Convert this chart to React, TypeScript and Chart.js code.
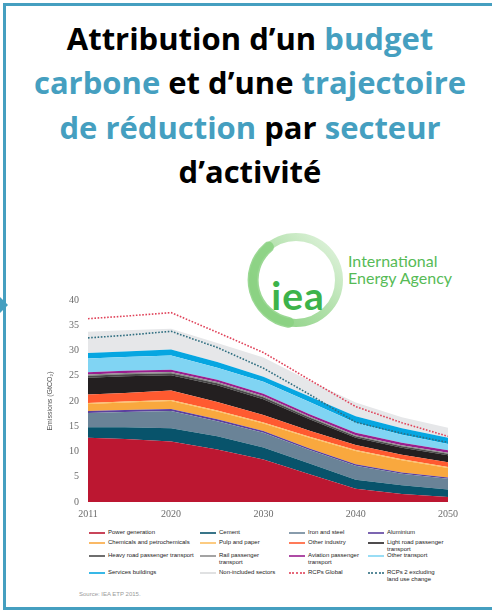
import React, { useEffect, useRef } from "react";
import { Chart, registerables } from "chart.js";

Chart.register(...registerables);

// ---- Data ----
const years = [2011, 2015, 2020, 2025, 2030, 2035, 2040, 2045, 2050];
const xTickYears = [2011, 2020, 2030, 2040, 2050];

const powerGeneration = [12.7, 12.5, 12.0, 10.4, 8.4, 5.5, 2.6, 1.6, 1.0];
const cement = [2.1, 2.3, 2.6, 2.6, 2.4, 2.1, 1.8, 1.7, 1.5];
const ironAndSteel = [2.8, 3.0, 3.4, 3.0, 2.9, 2.7, 2.8, 2.3, 2.1];
const aluminium = [0.4, 0.4, 0.4, 0.4, 0.35, 0.3, 0.3, 0.25, 0.25];
const chemicals = [1.4, 1.5, 1.6, 1.5, 1.5, 2.1, 2.6, 2.4, 1.9];
const pulpAndPaper = [0.2, 0.2, 0.2, 0.2, 0.2, 0.2, 0.2, 0.2, 0.2];
const otherIndustry = [1.7, 1.7, 1.9, 1.7, 1.5, 1.2, 1.0, 0.9, 0.9];
const lightRoadPassenger = [3.3, 3.3, 3.0, 3.3, 3.1, 2.3, 1.4, 1.4, 1.4];
const heavyRoadPassenger = [0.4, 0.4, 0.4, 0.4, 0.4, 0.35, 0.3, 0.3, 0.3];
const railPassenger = [0.25, 0.25, 0.25, 0.25, 0.25, 0.2, 0.2, 0.2, 0.2];
const aviationPassenger = [0.45, 0.45, 0.45, 0.45, 0.45, 0.45, 0.5, 0.5, 0.5];
const otherTransport = [2.7, 2.7, 2.8, 2.4, 2.35, 2.4, 2.0, 1.55, 1.25];
const servicesBuildings = [1.1, 1.1, 1.2, 1.1, 1.0, 1.1, 1.3, 1.3, 1.2];
const nonIncludedSectors = [4.2, 4.2, 4.1, 3.8, 3.8, 3.1, 2.7, 2.2, 2.0];

const rcpGlobal = [36.3, 36.8, 37.5, 33.6, 29.6, 24.2, 18.9, 15.7, 13.0];
const rcpExclLandUse = [32.5, 33.0, 33.8, 30.6, 26.5, 21.3, 15.8, 13.6, 11.8];

const sectorLabels = [
  "Power generation",
  "Cement",
  "Iron and steel",
  "Aluminium",
  "Chemicals and petrochemicals",
  "Pulp and paper",
  "Other industry",
  "Light road passenger transport",
  "Heavy road passenger transport",
  "Rail passenger transport",
  "Aviation passenger transport",
  "Other transport",
  "Services buildings",
  "Non-included sectors",
];
const sectorValues = [
  powerGeneration,
  cement,
  ironAndSteel,
  aluminium,
  chemicals,
  pulpAndPaper,
  otherIndustry,
  lightRoadPassenger,
  heavyRoadPassenger,
  railPassenger,
  aviationPassenger,
  otherTransport,
  servicesBuildings,
  nonIncludedSectors,
];
const sectorColors = [
  "#BC1731",
  "#08536B",
  "#6A8397",
  "#5B3F9E",
  "#F9A83E",
  "#FBBE62",
  "#FF5A30",
  "#231F20",
  "#4A4A4A",
  "#8C8C8C",
  "#9A1E8E",
  "#80D4F3",
  "#06A6E1",
  "#E6E7E9",
];

const lineLabels = ["RCPs Global", "RCPs 2 excluding land use change"];
const lineValues = [rcpGlobal, rcpExclLandUse];
const lineColors = ["#E0435A", "#2F6E80"];

// legend layout (row-major, 4 columns)
const legendRows: { label: string; lines: string[]; color: string; dotted?: boolean }[][] = [
  [
    { label: sectorLabels[0], lines: ["Power generation"], color: sectorColors[0] },
    { label: sectorLabels[1], lines: ["Cement"], color: sectorColors[1] },
    { label: sectorLabels[2], lines: ["Iron and steel"], color: sectorColors[2] },
    { label: sectorLabels[3], lines: ["Aluminium"], color: sectorColors[3] },
  ],
  [
    { label: sectorLabels[4], lines: ["Chemicals and petrochemicals"], color: sectorColors[4] },
    { label: sectorLabels[5], lines: ["Pulp and paper"], color: sectorColors[5] },
    { label: sectorLabels[6], lines: ["Other industry"], color: sectorColors[6] },
    { label: sectorLabels[7], lines: ["Light road passenger", "transport"], color: sectorColors[7] },
  ],
  [
    { label: sectorLabels[8], lines: ["Heavy road passenger transport"], color: sectorColors[8] },
    { label: sectorLabels[9], lines: ["Rail passenger", "transport"], color: sectorColors[9] },
    { label: sectorLabels[10], lines: ["Aviation passenger", "transport"], color: sectorColors[10] },
    { label: sectorLabels[11], lines: ["Other transport"], color: sectorColors[11] },
  ],
  [
    { label: sectorLabels[12], lines: ["Services buildings"], color: sectorColors[12] },
    { label: sectorLabels[13], lines: ["Non-included sectors"], color: "#D8D9DB" },
    { label: lineLabels[0], lines: ["RCPs Global"], color: lineColors[0], dotted: true },
    { label: lineLabels[1], lines: ["RCPs 2 excluding", "land use change"], color: lineColors[1], dotted: true },
  ],
];

const TEAL = "#459FC0";

function ChartCanvas() {
  const ref = useRef<HTMLCanvasElement | null>(null);
  useEffect(() => {
    if (!ref.current) return;
    const areaSets = sectorValues.map((vals, i) => ({
      label: sectorLabels[i],
      data: vals.map((v, j) => ({ x: years[j], y: v })),
      backgroundColor: sectorColors[i],
      borderColor: sectorColors[i],
      borderWidth: 0,
      pointRadius: 0,
      fill: i === 0 ? "origin" : "-1",
      yAxisID: "y",
      order: 20,
    }));
    const lineSets = lineValues.map((vals, i) => ({
      label: lineLabels[i],
      data: vals.map((v, j) => ({ x: years[j], y: v })),
      borderColor: lineColors[i],
      backgroundColor: lineColors[i],
      borderWidth: 1.6,
      borderDash: [1.6, 1.6],
      pointRadius: 0,
      fill: false,
      yAxisID: "y2",
      order: 1,
    }));
    const chart = new Chart(ref.current, {
      type: "line",
      data: { datasets: [...areaSets, ...lineSets] as any },
      options: {
        animation: false,
        responsive: false,
        maintainAspectRatio: false,
        layout: { padding: { top: 12, right: 14, left: 0, bottom: 0 } },
        plugins: { legend: { display: false }, tooltip: { enabled: false } },
        elements: { line: { tension: 0 } },
        scales: {
          x: {
            type: "linear",
            min: 2011,
            max: 2050,
            grid: { display: false, drawTicks: false },
            border: { display: false },
            afterBuildTicks: (s: any) => {
              s.ticks = xTickYears.map((v) => ({ value: v }));
            },
            afterFit: (s: any) => {
              s.height = 22;
            },
            ticks: {
              autoSkip: false,
              maxRotation: 0,
              padding: 6,
              color: "#6b6b6b",
              font: { family: "Liberation Serif", size: 10 },
              callback: (v: any) => String(v),
            },
          },
          y: {
            stacked: true,
            min: 0,
            max: 40,
            grid: { display: false, drawTicks: false },
            border: { display: false },
            afterFit: (s: any) => {
              s.width = 44;
            },
            ticks: {
              stepSize: 5,
              padding: 9,
              color: "#6b6b6b",
              font: { family: "Liberation Serif", size: 10 },
            },
            title: {
              display: true,
              text: "Emissions (GtCO\u2082)",
              color: "#555",
              padding: { top: 2, bottom: 0 },
              font: { family: "Liberation Sans", size: 7 },
            },
          },
          y2: {
            display: false,
            min: 0,
            max: 40,
          },
        },
      } as any,
    });
    return () => chart.destroy();
  }, []);
  return (
    <canvas
      ref={ref}
      width={420}
      height={239}
      style={{ position: "absolute", left: 44, top: 285, width: 420, height: 239 }}
    />
  );
}

function Logo() {
  return (
    <svg
      width={240}
      height={110}
      style={{ position: "absolute", left: 240, top: 228 }}
      viewBox="0 0 240 110"
    >
      <defs>
        <linearGradient id="ring" x1="0" y1="1" x2="1" y2="0">
          <stop offset="0" stopColor="#86CF7D" />
          <stop offset="0.5" stopColor="#B0E0A9" />
          <stop offset="1" stopColor="#E4F4E1" />
        </linearGradient>
      </defs>
      <circle cx={56} cy={52} r={43} fill="none" stroke="url(#ring)" strokeWidth={8} />
      <path
        d="M 48.5 94.3 A 43 43 0 0 1 28.4 19.1"
        fill="none"
        stroke="#8AD181"
        strokeWidth={11}
        strokeLinecap="round"
        opacity={0.85}
      />
      <text
        x={58}
        y={82}
        textAnchor="middle"
        fill="#3DB34A"
        style={{ fontFamily: "Lato", fontWeight: 700, fontSize: 39, letterSpacing: 1 }}
      >
        iea
      </text>
      <text x={108} y={39} fill="#56BB56" style={{ fontFamily: "Lato", fontSize: 16 }}>
        International
      </text>
      <text x={108} y={56} fill="#56BB56" style={{ fontFamily: "Lato", fontSize: 16 }}>
        Energy Agency
      </text>
    </svg>
  );
}

function Legend() {
  const rowTops = [529, 539, 552, 569];
  const colLefts = [89, 200, 289, 368];
  return (
    <>
      {legendRows.map((row, r) =>
        row.map((item, c) => (
          <div
            key={`${r}-${c}`}
            style={{
              position: "absolute",
              left: colLefts[c],
              top: rowTops[r],
              display: "flex",
              alignItems: "flex-start",
              fontFamily: "Liberation Sans",
              fontSize: 6,
              lineHeight: "7px",
              color: "#222",
              whiteSpace: "nowrap",
            }}
          >
            <div
              style={{
                width: 16,
                height: 0,
                marginTop: 2.5,
                marginRight: 3,
                borderTop: item.dotted ? `2px dotted ${item.color}` : `2px solid ${item.color}`,
                opacity: 0.8,
              }}
            />
            <div>
              {item.lines.map((l, k) => (
                <div key={k}>{l}</div>
              ))}
            </div>
          </div>
        ))
      )}
      <div
        style={{
          position: "absolute",
          left: 79,
          top: 591,
          fontFamily: "Liberation Sans",
          fontSize: 6,
          lineHeight: "7px",
          color: "#9a9a9a",
        }}
      >
        Source: IEA ETP 2015.
      </div>
    </>
  );
}

export default function App() {
  const t = { color: TEAL };
  return (
    <div
      style={{
        position: "absolute",
        left: 0,
        top: 0,
        width: 492,
        height: 610,
        overflow: "hidden",
        background: "#fff",
        fontFamily: "Lato, sans-serif",
      }}
    >
      <div
        style={{
          position: "absolute",
          left: 3,
          top: 3,
          width: 520,
          height: 601,
          borderLeft: `3px solid ${TEAL}`,
          borderTop: `3px solid ${TEAL}`,
          borderBottom: `3px solid ${TEAL}`,
        }}
      />
      <div
        style={{
          position: "absolute",
          left: 0,
          top: 297,
          width: 0,
          height: 0,
          borderTop: "8px solid transparent",
          borderBottom: "8px solid transparent",
          borderLeft: `8px solid ${TEAL}`,
        }}
      />
      <div
        style={{
          position: "absolute",
          left: 8,
          top: 15.7,
          width: 484,
          textAlign: "center",
          fontFamily: "'Open Sans'",
          fontWeight: 700,
          fontSize: 31,
          lineHeight: "44.5px",
          color: "#000",
        }}
      >
        <div>
          Attribution d’un <span style={t}>budget</span>
        </div>
        <div>
          <span style={t}>carbone</span> et d’une <span style={t}>trajectoire</span>
        </div>
        <div>
          <span style={t}>de réduction</span> par <span style={t}>secteur</span>
        </div>
        <div>d’activité</div>
      </div>
      <Logo />
      <ChartCanvas />
      <Legend />
    </div>
  );
}
